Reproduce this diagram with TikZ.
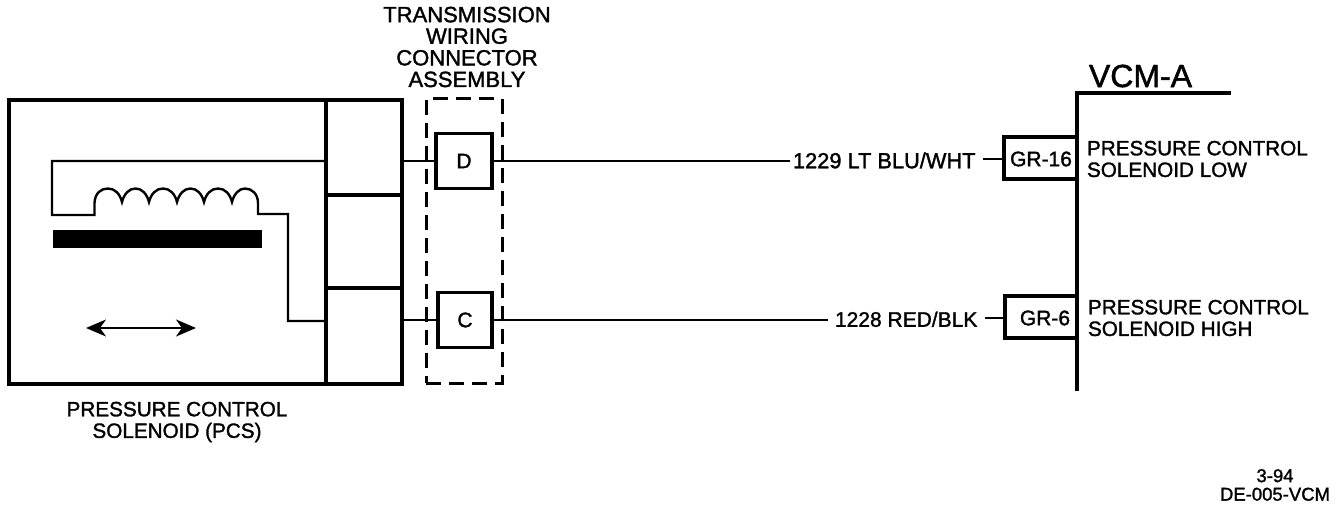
\documentclass[tikz,border=0pt]{standalone}
\usepackage{fontspec}
\setmainfont{Liberation Sans}[RawFeature={embolden=1.5}]
\usetikzlibrary{arrows.meta,calc}
\tikzset{
  box/.style={draw=black,line width=4pt,rectangle,outer sep=0pt,inner sep=0pt,fill=none},
  pin/.style={box,line width=3.6pt,font=\fontsize{21}{22}\selectfont},
  wire/.style={draw=black,line width=2.4pt},
  thick wire/.style={draw=black,line width=4pt,line cap=rect},
  wire label/.style={inner sep=0pt,outer sep=0pt,text height=14.5pt,text depth=0pt},
  caption/.style={inner sep=0pt,outer sep=0pt,align=left,font=\fontsize{20.7}{21.6}\selectfont},
  dashbox/.style={draw=black,line width=3pt,dash pattern=on 15pt off 8pt,rectangle,outer sep=0pt,inner sep=0pt},
}
\begin{document}
\begin{tikzpicture}[x=1pt,y=-1pt]
\useasboundingbox (0,0) rectangle (1344,508);
% solenoid housing
\node[box,minimum width=393pt,minimum height=284pt] (pcs) at (205.5,242) {};
\node[box,minimum width=76pt,minimum height=95pt] (cellA) at (364,147.5) {};
\node[box,minimum width=76pt,minimum height=93pt] (cellB) at (364,241.5) {};
\node[box,minimum width=76pt,minimum height=96pt] (cellC) at (364,336) {};
% connector assembly
\node[dashbox,minimum width=76pt,minimum height=284pt] (asm) at (464,241) {};
\node[pin,minimum width=56pt,minimum height=55pt] (D) at (464,161) {D};
\node[pin,minimum width=54pt,minimum height=55pt] (C) at (465,320) {C};
% VCM
\coordinate (vcmTop) at (1077,93);
\coordinate (vcmEnd) at (1229,93);
\coordinate (vcmBot) at (1077,389);
\draw[thick wire] (vcmEnd) -- (vcmTop) -- (vcmBot);
\draw[draw=black,line width=4pt,line join=miter] (1077,137) -- (1003.5,137) -- (1003.5,179) -- (1077,179);
\draw[draw=black,line width=4pt,line join=miter] (1077,296) -- (1004.5,296) -- (1004.5,338) -- (1077,338);
\node[inner sep=0pt,font=\fontsize{21}{22}\selectfont] (gr16) at (1041,159) {GR-16};
\node[inner sep=0pt,font=\fontsize{21}{22}\selectfont] (gr6) at (1045,318) {GR-6};
\coordinate (gr16box) at (1003.5,159);
\coordinate (gr6box) at (1004.5,318);
% wire labels
\node[wire label,anchor=west,font=\fontsize{21.8}{22}\selectfont] (wD) at (793,161) {1229 LT BLU/WHT};
\node[wire label,anchor=west,font=\fontsize{21}{22}\selectfont] (wC) at (835,319.5) {1228 RED/BLK};
% connectors
\draw[wire] (cellA.east |- D.west) -- (D.west);
\draw[wire] (cellC.east |- C.west) -- (C.west);
\draw[wire] (D.east) -- ([xshift=-3pt]wD.west);
\draw[wire] (C.east) -- ([xshift=-7pt]C.east -| wC.west);
\draw[wire] (gr16box) -- ++(-21,0) coordinate (s1);
\draw[wire] (gr6box) -- ++(-20,0) coordinate (s2);
% coil and internal wiring
\draw[wire,line join=miter]
  (cellA.west |- D.west) -- (52,161) -- (52,215) -- (94.5,215) -- (94.5,203)
  .. controls (95,193) and (101,188.5) .. (108,188.5)
  .. controls (115,188.5) and (120,194) .. (122,202)
  .. controls (124,194) and (129,188.5) .. (135.5,188.5)
  .. controls (142,188.5) and (147,194) .. (149,202)
  .. controls (151,194) and (156,188.5) .. (163,188.5)
  .. controls (170,188.5) and (175,194) .. (177,202)
  .. controls (179,194) and (184,188.5) .. (190.5,188.5)
  .. controls (197,188.5) and (202,194) .. (204,202)
  .. controls (206,194) and (211,188.5) .. (218,188.5)
  .. controls (225,188.5) and (230,194) .. (232,202)
  .. controls (234,194) and (239,188.5) .. (245,188.5)
  .. controls (252,188.5) and (258,194) .. (258,203)
  -- (258,214) -- (288,214) -- (288,321) -- (cellC.west |- 0,321);
\fill[black] (53,230) rectangle (262,248);
% motion arrow
\coordinate (mvL) at (86,328);
\coordinate (mvR) at (196,328);
\draw[draw=black,line width=2.4pt,{Stealth[length=20pt,width=17pt,inset=6pt]}-{Stealth[length=20pt,width=17pt,inset=6pt]}] (mvL) -- (mvR);
% captions
\node[caption,align=center,anchor=center,font=\fontsize{22}{21.6}\selectfont] (title) at (467,47) {TRANSMISSION\\WIRING\\CONNECTOR\\ASSEMBLY};
\node[caption,align=center] (pcsName) at (177,422) {PRESSURE CONTROL\\SOLENOID (PCS)};
\node[inner sep=0pt,font=\fontsize{32}{33}\selectfont] (vcm) at (1140.5,76) {VCM-A};
\node[caption,anchor=west] (low) at (1087,159) {PRESSURE CONTROL\\SOLENOID LOW};
\node[caption,anchor=west] (high) at (1088,318) {PRESSURE CONTROL\\SOLENOID HIGH};
\node[inner sep=0pt,align=center,font=\fontsize{18.5}{18.5}\selectfont] (stamp) at (1275,485) {3-94\\DE-005-VCM};
\end{tikzpicture}
\end{document}
